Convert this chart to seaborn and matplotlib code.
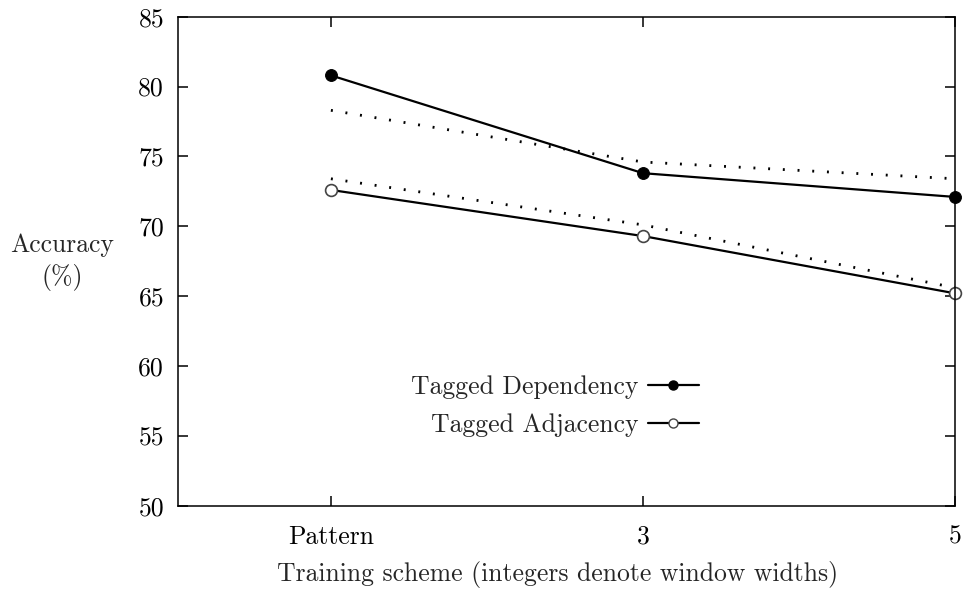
import matplotlib
matplotlib.use("Agg")
import matplotlib.pyplot as plt
from matplotlib.lines import Line2D
import seaborn as sns
import pandas as pd

# ---- data ----
categories = ["Pattern", "3", "5"]
tagged_dependency = [80.8, 73.8, 72.1]
tagged_adjacency = [72.6, 69.3, 65.2]
dependency_dotted = [78.3, 74.6, 73.4]
adjacency_dotted = [73.4, 70.1, 65.6]
y_ticks = [50, 55, 60, 65, 70, 75, 80, 85]

sns.set_style("ticks")
plt.rcParams["font.family"] = ["cmr10", "DejaVu Serif"]
plt.rcParams["mathtext.fontset"] = "cm"
plt.rcParams["axes.formatter.use_mathtext"] = True

FS = 18.5
pos = list(range(len(categories)))
df = pd.DataFrame({
    "pos": pos,
    "dep": tagged_dependency,
    "adj": tagged_adjacency,
    "dep_dot": dependency_dotted,
    "adj_dot": adjacency_dotted,
})

fig = plt.figure(figsize=(9.64, 6.10), dpi=100)
ax = fig.add_axes([178 / 964, 1 - 505.7 / 610, (955 - 178) / 964, (505.7 - 16.7) / 610])

dot_style = (0, (0.7, 4.6))
sns.lineplot(data=df, x="pos", y="dep_dot", ax=ax, color="black", lw=2.0,
             linestyle=dot_style, legend=False, dash_capstyle="butt")
sns.lineplot(data=df, x="pos", y="adj_dot", ax=ax, color="black", lw=2.0,
             linestyle=dot_style, legend=False, dash_capstyle="butt")
sns.lineplot(data=df, x="pos", y="dep", ax=ax, color="black", lw=1.6,
             marker="o", markersize=8.5, markerfacecolor="black",
             markeredgecolor="black", legend=False, clip_on=False)
sns.lineplot(data=df, x="pos", y="adj", ax=ax, color="black", lw=1.6,
             marker="o", markersize=8.5, markerfacecolor="white",
             markeredgecolor="#444444", markeredgewidth=1.2, legend=False,
             clip_on=False)

ax.set_xlim(-0.49, 2)
ax.set_ylim(50, 85)
ax.set_xticks(pos)
ax.set_xticklabels(categories)
ax.set_yticks(y_ticks)
ax.set_yticklabels([str(v) for v in y_ticks])
ax.tick_params(direction="in", length=7.5, width=1.1, labelsize=FS,
               top=True, right=True, colors="black")
ax.tick_params(axis="x", pad=14)
ax.tick_params(axis="y", pad=10)
for s in ax.spines.values():
    s.set_visible(True)
    s.set_linewidth(1.1)
    s.set_color("black")
ax.set_xlabel("")
ax.set_ylabel("")

fig.text(62 / 964, 1 - 262 / 610, "Accuracy\n(%)", ha="center", va="center",
         fontsize=FS, linespacing=1.35)
fig.text(558 / 964, 1 - 574 / 610, "Training scheme (integers denote window widths)",
         ha="center", va="center", fontsize=FS)

h1 = Line2D([], [], color="black", lw=1.6, marker="o", markersize=6.5,
            markerfacecolor="black", markeredgecolor="black")
h2 = Line2D([], [], color="black", lw=1.6, marker="o", markersize=6.5,
            markerfacecolor="white", markeredgecolor="#444444", markeredgewidth=1.0)
leg = ax.legend([h1, h2], ["Tagged Dependency", "Tagged Adjacency"],
                loc="upper right", bbox_to_anchor=((699 - 178) / 777, (505.7 - 375) / 489),
                frameon=False, fontsize=FS, markerfirst=False, handlelength=2.0,
                handletextpad=0.35, labelspacing=0.55, borderpad=0, borderaxespad=0)
for t in leg.get_texts():
    t.set_ha("right")
leg._legend_box.align = "right"

fig.savefig("out.png", dpi=100)
